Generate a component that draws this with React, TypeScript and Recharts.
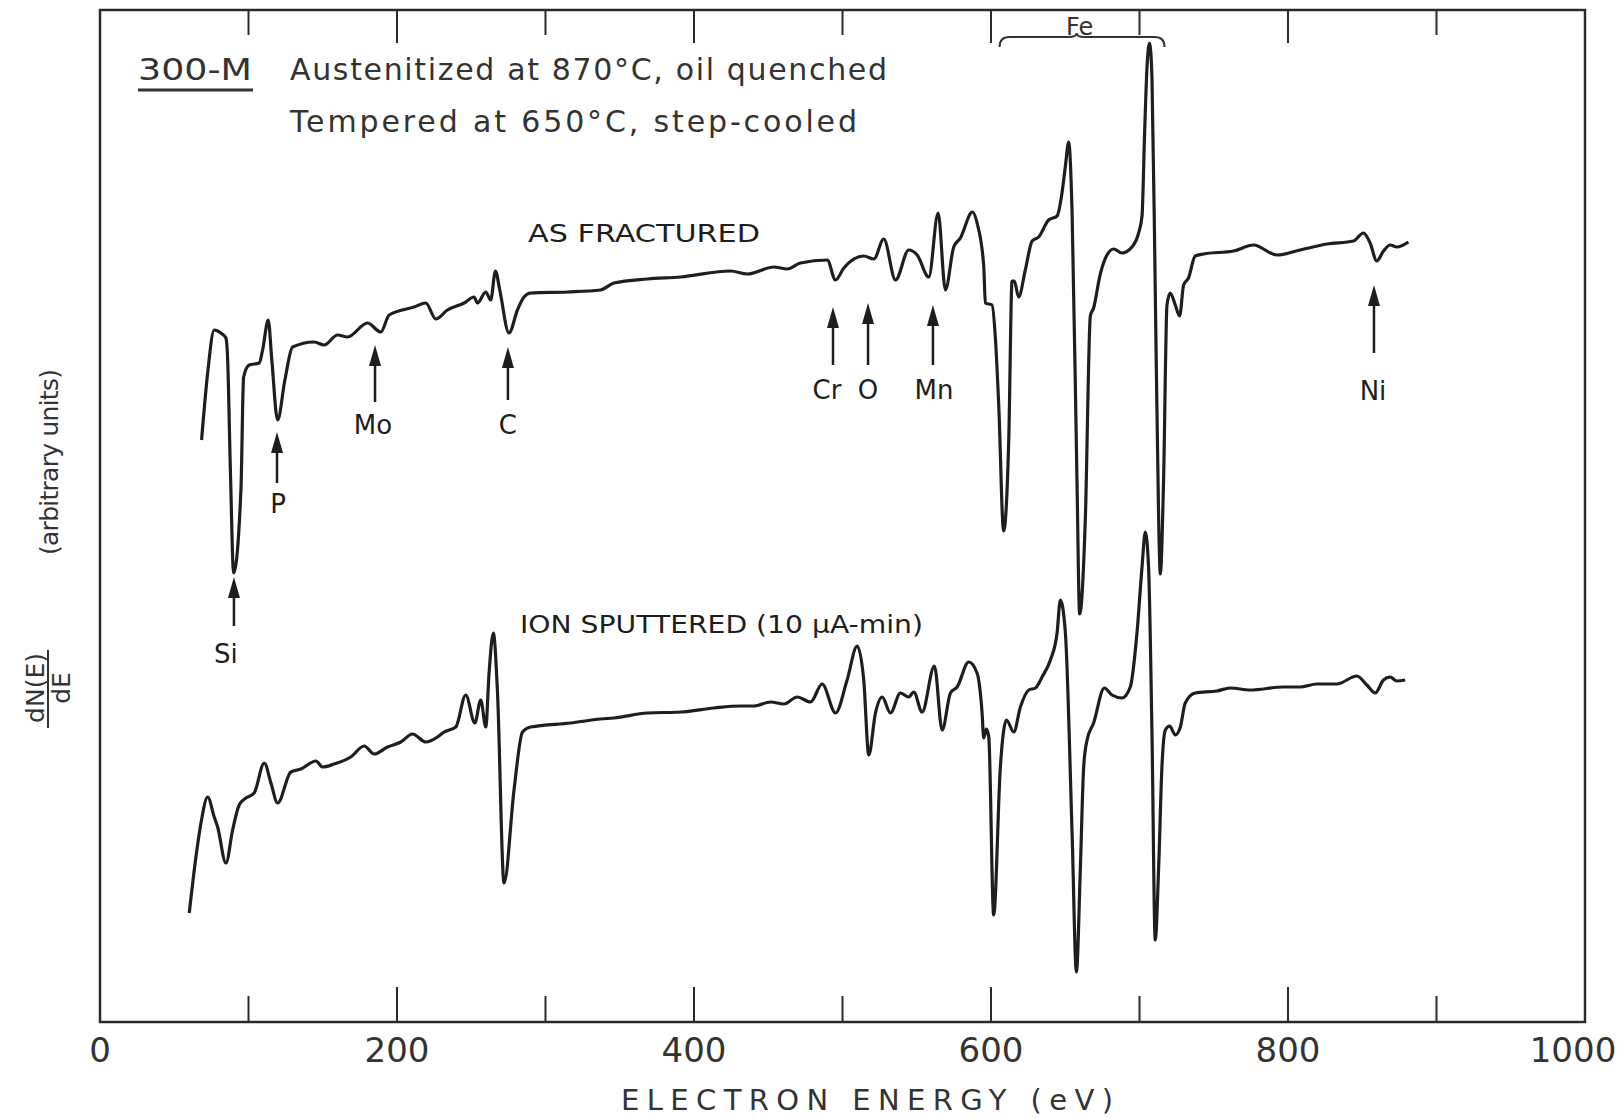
import React from "react";
import {
  LineChart,
  Line,
  XAxis,
  YAxis,
  ReferenceArea,
  ReferenceLine,
  ReferenceDot
} from "recharts";

// AS FRACTURED trace (eV, arbitrary units)
const fracturedEnergy = [
  68.4, 72.5, 76.9, 81.4, 84.8, 85.9, 87.8, 90.0, 94.9, 96.7, 100.5, 107.2, 109.5, 113.3, 115.7,
  119.6, 124.5, 129.7, 144.2, 150.9, 160.0, 166.7, 180.1, 189.1, 194.7, 211.5, 219.4, 226.1,
  234.0, 245.2, 251.9, 254.2, 259.8, 263.1, 266.3, 269.2, 275.4, 281.1, 285.5, 290.0, 315.0,
  337.1, 346.1, 368.6, 391.0, 424.6, 435.9, 453.8, 462.8, 471.7, 489.7, 495.3, 500.9, 514.3,
  521.1, 527.8, 535.7, 544.6, 550.3, 558.1, 564.4, 569.3, 574.9, 579.4, 587.5, 590.8, 595.1,
  596.2, 600.7, 603.0, 605.2, 608.5, 611.9, 614.2, 615.7, 618.6, 623.1, 627.7, 632.1, 638.8,
  644.5, 647.8, 650.1, 652.3, 654.6, 657.9, 659.7, 663.5, 666.9, 669.1, 673.6, 678.1, 682.6,
  688.2, 694.9, 699.4, 701.7, 703.4, 705.1, 706.8, 708.4, 710.6, 712.9, 714.0, 716.2, 718.5,
  720.7, 724.1, 727.0, 729.7, 733.0, 737.5, 743.1, 763.3, 776.8, 792.5, 808.2, 826.2, 844.1,
  850.8, 855.3, 859.8, 864.3, 868.8, 873.3, 881.1
];
const fracturedSignal = [
  58.1, 64.8, 69.1, 68.8, 68.3, 66.4, 55.1, 44.8, 53.1, 64.4, 65.6, 65.8, 67.1, 70.1, 66.1,
  60.1, 64.1, 67.4, 67.9, 67.6, 68.6, 68.4, 69.8, 68.9, 70.6, 71.4, 71.8, 70.2,
  71.1, 71.8, 72.4, 71.8, 72.9, 72.1, 75.0, 73.1, 68.8, 71.1, 72.4, 72.8, 72.9,
  73.1, 73.8, 74.2, 74.4, 75.0, 74.7, 75.4, 75.2, 75.8, 76.1, 74.1, 75.3, 76.5,
  76.2, 78.2, 74.1, 77.1, 76.6, 74.4, 80.8, 73.1, 77.4, 78.3, 80.9, 79.7, 75.5,
  71.8, 71.6, 68.2, 61.6, 49.0, 57.8, 74.0, 74.0, 72.4, 75.1, 78.0, 78.4, 80.1,
  80.5, 82.8, 85.5, 87.9, 80.9, 54.0, 40.7, 50.1, 70.5, 71.3, 74.7, 76.6, 77.2,
  76.8, 77.4, 78.8, 80.5, 88.6, 95.5, 97.8, 94.3, 73.2, 50.1, 44.7, 54.0, 71.6,
  72.8, 71.6, 70.5, 73.6, 74.3, 76.5, 76.7, 77.0, 77.6, 76.6, 77.1, 77.7, 78.0,
  78.8, 77.8, 76.0, 77.0, 77.6, 77.4, 77.9
];

// ION SPUTTERED (10 µA-min) trace
const sputteredEnergy = [
  60.1, 64.6, 68.0, 72.5, 76.9, 79.2, 84.8, 89.3, 93.7, 98.3, 103.8, 110.6, 115.1, 119.6,
  128.5, 135.3, 145.4, 149.9, 157.7, 168.9, 177.9, 184.6, 193.6, 202.6, 210.4, 219.4, 227.3,
  231.7, 239.6, 246.3, 252.4, 256.4, 259.8, 262.0, 264.9, 267.6, 272.1, 278.8, 284.5, 290.0,
  316.9, 337.1, 346.1, 368.6, 391.0, 413.4, 431.4, 440.3, 451.6, 460.5, 469.5, 478.5, 486.3,
  495.3, 503.1, 509.9, 514.3, 517.7, 522.2, 526.7, 532.3, 539.0, 544.6, 548.0, 553.6, 561.9,
  567.1, 572.7, 577.2, 585.0, 590.6, 594.0, 595.1, 596.9, 598.5, 601.8, 606.3, 610.4, 615.3,
  619.8, 625.4, 629.9, 634.4, 640.0, 644.5, 646.7, 650.1, 654.6, 657.5, 660.2, 662.4, 664.7,
  669.1, 676.3, 681.5, 688.2, 693.8, 698.3, 701.7, 703.9, 706.1, 708.4, 710.6, 712.9, 715.1,
  717.4, 720.3, 724.1, 727.5, 730.8, 737.5, 752.1, 761.1, 774.6, 797.0, 808.2, 819.4, 832.9,
  846.4, 853.1, 858.7, 864.3, 868.8, 873.3, 878.9
];
const sputteredSignal = [
  10.8, 16.4, 19.8, 22.4, 20.4, 19.4, 15.8, 19.1, 21.6, 22.3, 22.8, 25.8, 23.8, 21.8,
  24.9, 25.2, 26.0, 25.4, 25.7, 26.4, 27.5, 26.7, 27.4, 27.9, 28.7, 27.9, 28.4,
  28.9, 29.4, 32.6, 29.8, 32.1, 29.4, 34.8, 38.8, 33.1, 13.8, 23.1, 28.9, 29.4,
  29.8, 30.2, 30.3, 30.8, 30.9, 31.3, 31.5, 31.5, 31.9, 31.7, 32.4, 31.9, 33.7,
  30.8, 34.1, 37.5, 34.1, 26.6, 30.8, 32.4, 30.8, 32.8, 32.4, 32.9, 30.9, 35.5,
  29.1, 32.8, 33.4, 35.9, 34.8, 30.8, 28.3, 29.2, 28.4, 10.6, 25.4, 30.1, 28.9,
  31.4, 33.1, 33.3, 34.4, 36.1, 38.8, 42.1, 38.8, 18.8, 4.9, 15.4, 25.4, 28.1,
  29.8, 33.3, 32.6, 32.3, 33.4, 38.8, 45.4, 48.9, 45.4, 28.8, 8.1, 15.4, 25.4,
  29.1, 29.5, 28.6, 29.4, 31.8, 32.8, 33.0, 33.3, 33.1, 33.4, 33.4, 33.7, 33.7,
  34.5, 33.6, 32.8, 34.1, 34.4, 34.0, 34.1
];

// element markers on the upper trace
const peakLabels = ["Si", "P", "Mo", "C", "Cr", "O", "Mn", "Ni"];
const peakEnergy = [90.2, 119.2, 185.2, 274.7, 493.6, 517.2, 560.9, 857.9];
const peakArrowTip = [44.4, 58.9, 67.6, 67.4, 71.4, 71.8, 71.6, 73.6];

const tickValues = [100, 200, 300, 400, 500, 600, 700, 800, 900];
const labelValues = [0, 200, 400, 600, 800, 1000];

// arrow length / label offset in px
const arrowLayout = [
  { len: 49, dy: 77, dx: -8 },
  { len: 51, dy: 72, dx: 1 },
  { len: 57, dy: 80, dx: -2 },
  { len: 53, dy: 78, dx: 0 },
  { len: 58, dy: 83, dx: -6 },
  { len: 62, dy: 87, dx: 0 },
  { len: 60, dy: 85, dx: 1 },
  { len: 68, dy: 106, dx: -1 }
];

const INK = "#1e1e1e";
const TEXT = "#333";
const FONT = "'DejaVu Sans', sans-serif";
const Y_MIN = -0.1;
const Y_MAX = 101.1;

const fractured = fracturedEnergy.map((energy, i) => ({ energy, signal: fracturedSignal[i] }));
const sputtered = sputteredEnergy.map((energy, i) => ({ energy, signal: sputteredSignal[i] }));

const EnergyTick = (props: any) => {
  const { x, y, payload } = props;
  // the hand-lettered "1000" sits a little inside the frame
  const shift = payload.value === 1000 ? -12 : 0;
  return (
    <text x={x + shift} y={y + 40} textAnchor="middle" fontSize={34} fontFamily={FONT} fill={TEXT}>
      {payload.value}
    </text>
  );
};

const arrowShape = (label: string, layout: { len: number; dy: number; dx: number }) => (p: any) => {
  const { cx, cy } = p;
  return (
    <g>
      <polygon points={`${cx},${cy} ${cx - 6},${cy + 21} ${cx + 6},${cy + 21}`} fill={INK} />
      <line x1={cx} y1={cy + 15} x2={cx} y2={cy + layout.len} stroke={INK} strokeWidth={2.5} />
      <text
        x={cx + layout.dx}
        y={cy + layout.dy}
        dy="0.36em"
        textAnchor="middle"
        fontSize={26}
        fontFamily={FONT}
        fill={INK}
      >
        {label}
      </text>
    </g>
  );
};

const feBracket = (p: any) => {
  const { cx, cy } = p;
  const d = `M ${cx - 77} ${cy + 10} Q ${cx - 77} ${cy} ${cx - 67} ${cy} L ${cx - 8} ${cy} Q ${cx} ${cy} ${cx} ${cy - 4} Q ${cx} ${cy} ${cx + 8} ${cy} L ${cx + 78} ${cy} Q ${cx + 88} ${cy} ${cx + 88} ${cy + 10}`;
  return (
    <g>
      <path d={d} fill="none" stroke={TEXT} strokeWidth={2} />
      <text x={cx + 3} y={cy - 2} textAnchor="middle" fontSize={24} fontFamily={FONT} fill={TEXT}>
        Fe
      </text>
    </g>
  );
};

const App: React.FunctionComponent = () => {
  return (
    <div style={{ position: "absolute", left: 0, top: 0, width: 1623, height: 1119, background: "#fff" }}>
      <LineChart width={1623} height={1119} margin={{ top: 10, right: 38, bottom: 37, left: 100 }}>
        <XAxis
          type="number"
          dataKey="energy"
          domain={[0, 1000]}
          ticks={labelValues}
          interval={0}
          tickLine={false}
          axisLine={false}
          tickSize={0}
          tickMargin={0}
          height={60}
          tick={<EnergyTick />}
        />
        <YAxis type="number" domain={[Y_MIN, Y_MAX]} hide allowDataOverflow />
        <ReferenceArea
          x1={0}
          x2={1000}
          y1={Y_MIN}
          y2={Y_MAX}
          fill="none"
          fillOpacity={0}
          stroke="#2a2a2a"
          strokeWidth={2.5}
        />
        {tickValues.map(t => (
          <ReferenceLine
            key={"b" + t}
            segment={[{ x: t, y: Y_MIN }, { x: t, y: Y_MIN + (t % 200 === 0 ? 3.5 : 2.6) }]}
            stroke="#2a2a2a"
            strokeWidth={2}
          />
        ))}
        {tickValues.map(t => (
          <ReferenceLine
            key={"t" + t}
            segment={[{ x: t, y: Y_MAX }, { x: t, y: Y_MAX - (t % 200 === 0 ? 3.3 : 2.5) }]}
            stroke="#2a2a2a"
            strokeWidth={2}
          />
        ))}
        <Line
          data={fractured}
          dataKey="signal"
          type="monotone"
          stroke={INK}
          strokeWidth={3.2}
          dot={false}
          isAnimationActive={false}
        />
        <Line
          data={sputtered}
          dataKey="signal"
          type="monotone"
          stroke={INK}
          strokeWidth={3.2}
          dot={false}
          isAnimationActive={false}
        />
        {peakLabels.map((label, i) => (
          <ReferenceDot
            key={label}
            x={peakEnergy[i]}
            y={peakArrowTip[i]}
            r={0}
            shape={arrowShape(label, arrowLayout[i])}
          />
        ))}
        <ReferenceDot x={657.6} y={98.4} r={0} shape={feBracket} />
      </LineChart>
      <svg
        width={1623}
        height={1119}
        style={{ position: "absolute", left: 0, top: 0, pointerEvents: "none" }}
        fontFamily={FONT}
      >
        <text x={138} y={80} fontSize={30} fill={TEXT} textLength={114} lengthAdjust="spacingAndGlyphs">
          300-M
        </text>
        <line x1={138} y1={90} x2={253} y2={90} stroke={TEXT} strokeWidth={3} />
        <text x={290} y={80} fontSize={30} fill={TEXT} textLength={597} lengthAdjust="spacing">
          Austenitized at 870°C, oil quenched
        </text>
        <text x={290} y={132} fontSize={30} fill={TEXT} textLength={567} lengthAdjust="spacing">
          Tempered at 650°C, step-cooled
        </text>
        <text x={528} y={242} fontSize={25} fill={INK} textLength={232} lengthAdjust="spacingAndGlyphs">
          AS FRACTURED
        </text>
        <text x={520} y={633} fontSize={25} fill={INK} textLength={403} lengthAdjust="spacingAndGlyphs">
          ION SPUTTERED (10 µA-min)
        </text>
        <text x={621} y={1110} fontSize={29} fill={TEXT} textLength={492} lengthAdjust="spacing">
          ELECTRON ENERGY (eV)
        </text>
        <g transform="translate(58, 462) rotate(-90)">
          <text x={0} y={0} fontSize={25} fill={TEXT} textAnchor="middle" textLength={186} lengthAdjust="spacing">
            (arbitrary units)
          </text>
        </g>
        <g transform="translate(44, 688) rotate(-90)">
          <text x={0} y={0} fontSize={25} fill={TEXT} textAnchor="middle">
            dN(E)
          </text>
        </g>
        <line x1={48} y1={650} x2={48} y2={728} stroke={TEXT} strokeWidth={2} />
        <g transform="translate(70, 688) rotate(-90)">
          <text x={0} y={0} fontSize={25} fill={TEXT} textAnchor="middle">
            dE
          </text>
        </g>
      </svg>
    </div>
  );
};

export default App;
